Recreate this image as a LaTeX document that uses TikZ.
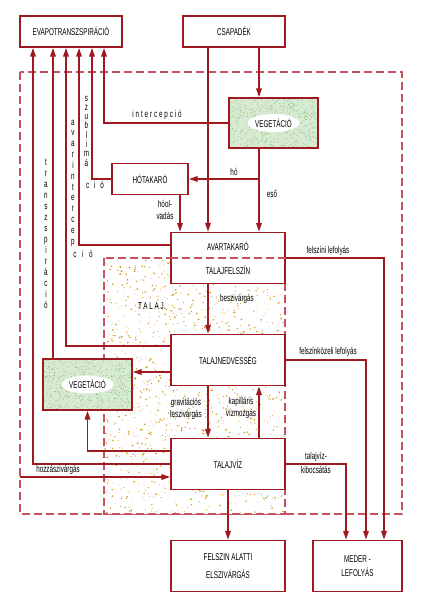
\documentclass[tikz,border=0pt]{standalone}
\usepackage{fontspec}
\newfontfamily\narrowfont[FakeStretch=0.64]{Liberation Sans}
\usetikzlibrary{arrows.meta, shapes.geometric, calc}
\definecolor{flowRed}{HTML}{9E1A20}
\definecolor{flowDash}{HTML}{C8505E}
\definecolor{vegGreen}{HTML}{D8EBD2}
\definecolor{vegDot}{HTML}{6FB06F}
\definecolor{soilDot}{HTML}{CF9A1E}
\definecolor{soilLight}{HTML}{E5C46A}

\begin{document}
\begin{tikzpicture}[
    x=0.025cm, y=-0.025cm,
    txt/.style={font=\narrowfont\fontsize{7}{8}\selectfont, align=center, inner sep=0pt},
    box/.style={txt, rectangle, draw=flowRed, line width=1.2pt, fill=white,
                minimum width=2.85cm, minimum height=1.275cm},
    smallbox/.style={box, minimum width=2.55cm, minimum height=0.775cm},
    vegbox/.style={box, minimum width=2.225cm, fill=vegGreen,
                path picture={\foreach \k in {1,...,650}
                  \fill[vegDot] ([shift={(rnd*2.3cm,rnd*1.35cm)}]path picture bounding box.south west) circle (0.28pt);}},
    glow/.style={txt, ellipse, fill=white, minimum width=1.2cm, minimum height=0.45cm},
    flow/.style={draw=flowRed, line width=1.1pt},
    arr/.style={flow, -{Triangle[length=2.2mm, width=1.4mm]}},
    zone/.style={draw=flowDash, line width=0.9pt, dash pattern=on 2mm off 1mm},
    vtxt/.style={txt, font=\narrowfont\fontsize{7}{#1}\selectfont},
    spaced/.style={txt, font=\narrowfont\fontsize{7}{8}\selectfont\addfontfeature{LetterSpace=#1}},
  ]
  \useasboundingbox (0,0) rectangle (434,600);
  \pgfmathsetseed{11}

  % hydrological system and the soil zone
  \draw[zone] (20,72) rectangle (402,514);
  \fill[white] (104,258) rectangle (285,514);
  \foreach \k in {1,...,900}
    \fill[soilDot] ({104+181*rnd},{258+256*rnd}) circle [radius={0.3pt+0.4pt*rnd}];
  \foreach \k in {1,...,500}
    \fill[soilLight] ({104+181*rnd},{258+256*rnd}) circle [radius=0.4pt];
  \draw[zone] (104,258) rectangle (285,514);
  \node[spaced=18] (talajLbl) at (151,306) {TALAJ};

  % boxes
  \node[smallbox] (evap) at (71,31.5) {EVAPOTRANSZSPIRÁCIÓ};
  \node[smallbox] (csap) at (234,31.5) {CSAPADÉK};
  \node[vegbox, minimum height=1.25cm] (veg1) at (273.5,123) {};
  \node[glow] (veg1txt) at (veg1) {VEGETÁCIÓ};
  \node[box, minimum width=1.9cm, minimum height=0.775cm] (hotak) at (150,179) {HÓTAKARÓ};
  \node[box] (avar) at (228,258) {AVARTAKARÓ\\[9pt]TALAJFELSZÍN};
  \draw[zone] (avar.west) -- (avar.east);
  \node[box] (nedv) at (228,360) {TALAJNEDVESSÉG};
  \node[box] (talajviz) at (228,464) {TALAJVÍZ};
  \node[vegbox] (veg2) at (87.5,384.5) {};
  \node[glow] (veg2txt) at (veg2) {VEGETÁCIÓ};
  \node[box] (alatti) at (228,566) {FELSZIN ALATTI\\[5pt]ELSZIVÁRGÁS};
  \node[box, minimum width=2.225cm] (meder) at (357.5,566) {MEDER -\\[2pt]LEFOLYÁS};

  % columns and rows of the connectors
  \coordinate (colTr) at (33,0);
  \coordinate (colVeg) at (53,0);
  \coordinate (colNedv) at (66,0);
  \coordinate (colAvar) at (79,0);
  \coordinate (colSzub) at (92,0);
  \coordinate (colInt) at (104,0);
  \coordinate (colHo) at (180,0);
  \coordinate (colL) at (208,0);
  \coordinate (colR) at (259,0);
  \coordinate (colMed1) at (346,0);
  \coordinate (colMed2) at (366,0);
  \coordinate (colMed3) at (384,0);
  \coordinate (rowAvar) at (0,245);
  \coordinate (rowNedv) at (0,346);
  \coordinate (rowVegOut) at (0,372);
  \coordinate (rowVegIn) at (0,451);
  \coordinate (hozzaIn) at (20,477);

  % to evapotranspiration
  \draw[arr] (talajviz.west) -| (evap.south -| colTr);
  \draw[arr] (veg2.north -| colVeg) -- (evap.south -| colVeg);
  \draw[arr] (nedv.west |- rowNedv) -| (evap.south -| colNedv);
  \draw[arr] (avar.west |- rowAvar) -| (evap.south -| colAvar);
  \draw[arr] (hotak.west) -| (evap.south -| colSzub);
  \draw[arr] (veg1.west) -| (evap.south -| colInt);

  % precipitation
  \draw[arr] (csap.south -| colR) -- (veg1.north -| colR);
  \draw[arr] (csap.south -| colL) -- (avar.north -| colL);
  \draw[arr] (veg1.south -| colR) -- (avar.north -| colR);
  \draw[arr] (hotak.east -| colR) -- (hotak.east);
  \draw[arr] (hotak.south -| colHo) -- (avar.north -| colHo);

  % soil
  \draw[arr] (avar.south -| colL) -- (nedv.north -| colL);
  \draw[arr] (nedv.south -| colL) -- (talajviz.north -| colL);
  \draw[arr] (talajviz.north -| colR) -- (nedv.south -| colR);
  \draw[arr] (nedv.west |- rowVegOut) -- (veg2.east |- rowVegOut);
  \draw[arr] (talajviz.west |- rowVegIn) -| (veg2.south);
  \draw[arr] (hozzaIn) -- (talajviz.west |- hozzaIn);
  \draw[arr] (talajviz.south) -- (alatti.north);

  % runoff
  \draw[arr] (avar.east) -| (meder.north -| colMed3);
  \draw[arr] (nedv.east) -| (meder.north -| colMed2);
  \draw[arr] (talajviz.east) -| (meder.north -| colMed1);

  % labels
  \node[spaced=19] (intLbl) at (157,115) {intercepció};
  \node[txt] (hoLbl) at (234,172) {hó};
  \node[txt] (esoLbl) at (272,194) {eső};
  \node[txt] (olvLbl) at (165,210) {hóol-\\[1pt]vadás};
  \node[txt] (beszLbl) at (237,299) {beszivárgás};
  \node[txt] (felszLbl) at (328,251) {felszíni lefolyás};
  \node[txt] (kozelLbl) at (328,352) {felszínközeli lefolyás};
  \node[txt] (gravLbl) at (186,409) {gravitációs\\leszivárgás};
  \node[txt] (kapLbl) at (241,408) {kapilláris\\vízmozgás};
  \node[txt] (kibLbl) at (316,463) {talajvíz-\\[2pt]kibocsátás};
  \node[txt] (hozzaLbl) at (58,470) {hozzászivárgás};
  \node[vtxt=7.8] (trLbl) at (46,234) {t\\r\\a\\n\\s\\z\\s\\p\\i\\r\\á\\c\\i\\ó};
  \node[vtxt=7.7] (avLbl) at (73,183) {a\\v\\a\\r\\i\\n\\t\\e\\r\\c\\e\\p};
  \node[spaced=57] (avCio) at (83,254) {ció};
  \node[vtxt=6.6] (szLbl) at (86.5,131) {s\\z\\u\\b\\l\\i\\m\\á};
  \node[spaced=50] (szCio) at (95,185) {ció};
\end{tikzpicture}
\end{document}
